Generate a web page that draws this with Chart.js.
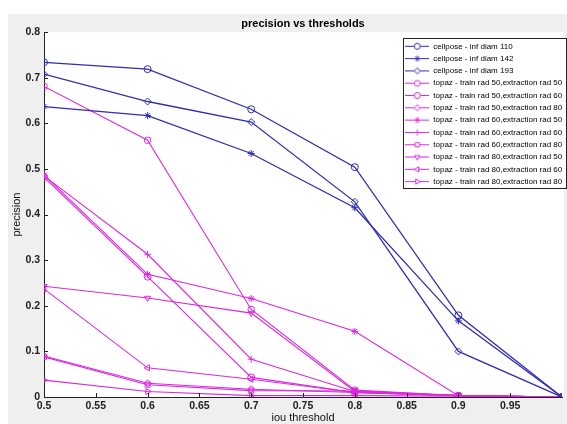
<!DOCTYPE html>
<html>
<head>
<meta charset="utf-8">
<script src="https://cdn.jsdelivr.net/npm/chart.js@4/dist/chart.umd.min.js"></script>
<style>
  html, body { margin: 0; padding: 0; background: #fff; overflow: hidden; }
</style>
</head>
<body>
<canvas id="prChart" width="567" height="424"></canvas>
<script>
// iou thresholds on the x axis
const thresholds = [0.5, 0.6, 0.7, 0.8, 0.9, 1.0];

// cellpose runs
const cellpose110 = [0.734, 0.719, 0.631, 0.504, 0.179, 0];
const cellpose142 = [0.637, 0.617, 0.534, 0.415, 0.167, 0];
const cellpose193 = [0.708, 0.648, 0.603, 0.428, 0.100, 0];

// topaz runs (train rad / extraction rad)
const topaz50_50 = [0.681, 0.563, 0.192, 0.015, 0.003, 0];
const topaz50_60 = [0.482, 0.264, 0.043, 0.010, 0.003, 0];
const topaz50_80 = [0.090, 0.030, 0.017, 0.010, 0.003, 0];
const topaz60_50 = [0.487, 0.269, 0.216, 0.144, 0.003, 0];
const topaz60_60 = [0.485, 0.313, 0.083, 0.012, 0.003, 0];
const topaz60_80 = [0.088, 0.027, 0.014, 0.013, 0.003, 0];
const topaz80_50 = [0.243, 0.217, 0.184, 0.012, 0.003, 0];
const topaz80_60 = [0.237, 0.064, 0.039, 0.010, 0.003, 0];
const topaz80_80 = [0.037, 0.012, 0.003, 0.003, 0.002, 0];

const xTicks = [0.5, 0.55, 0.6, 0.65, 0.7, 0.75, 0.8, 0.85, 0.9, 0.95];
const yTicks = [0, 0.1, 0.2, 0.3, 0.4, 0.5, 0.6, 0.7, 0.8];

const BLUE = "#2e2eb4";
const PINK = "#dc28dc";

function pts(vals) {
  return thresholds.map((t, i) => ({ x: t, y: vals[i] }));
}

function series(label, vals, color, style, rot) {
  return {
    label: label,
    data: pts(vals),
    borderColor: color,
    borderWidth: color === BLUE ? 1.3 : 1.1,
    pointStyle: style,
    rotation: rot || 0,
    pointRadius: 3.5,
    pointBorderColor: color,
    pointBackgroundColor: "rgba(255,255,255,0)",
    pointBorderWidth: 1,
    tension: 0,
    fill: false,
  };
}

const datasets = [
  series("cellpose - inf diam 110", cellpose110, BLUE, "circle"),
  series("cellpose - inf diam 142", cellpose142, BLUE, "star"),
  series("cellpose - inf diam 193", cellpose193, BLUE, "rectRot"),
  series("topaz - train rad 50,extraction rad 50", topaz50_50, PINK, "rectRounded"),
  series("topaz - train rad 50,extraction rad 60", topaz50_60, PINK, "circle"),
  series("topaz - train rad 50,extraction rad 80", topaz50_80, PINK, "rectRot"),
  series("topaz - train rad 60,extraction rad 50", topaz60_50, PINK, "star"),
  series("topaz - train rad 60,extraction rad 60", topaz60_60, PINK, "cross"),
  series("topaz - train rad 60,extraction rad 80", topaz60_80, PINK, "rect"),
  series("topaz - train rad 80,extraction rad 50", topaz80_50, PINK, "triangle", 180),
  series("topaz - train rad 80,extraction rad 60", topaz80_60, PINK, "triangle", 270),
  series("topaz - train rad 80,extraction rad 80", topaz80_80, PINK, "triangle", 90),
];

// little line+marker icons for the legend, like matlab draws them
function makeIcon(ds) {
  const c = document.createElement("canvas");
  c.width = 24; c.height = 9;
  const g = c.getContext("2d");
  g.strokeStyle = ds.borderColor;
  g.lineWidth = 1;
  g.beginPath(); g.moveTo(0, 4.5); g.lineTo(24, 4.5); g.stroke();
  if (Chart.helpers && Chart.helpers.drawPoint) {
    g.fillStyle = "#fff";
    Chart.helpers.drawPoint(g, { pointStyle: ds.pointStyle, radius: 3, rotation: ds.rotation, borderWidth: 1 }, 12, 4.5);
  }
  return c;
}
const icons = datasets.map(makeIcon);

const figureBg = {
  id: "figureBg",
  beforeDraw(chart) {
    const ctx = chart.ctx, a = chart.chartArea;
    ctx.save();
    ctx.fillStyle = "#fff";
    ctx.fillRect(0, 0, chart.width, chart.height);
    ctx.fillStyle = "#efefef";
    ctx.fillRect(8, 14, chart.width - 8, chart.height - 14);
    ctx.fillStyle = "#fff";
    ctx.fillRect(a.left, a.top, a.right - a.left + 2, a.bottom - a.top);
    ctx.restore();
  },
};

// put the legend box in the upper right corner of the axes
const legendPlace = {
  id: "legendPlace",
  afterLayout(chart) {
    const lg = chart.legend;
    lg.left = 401; lg.top = 38; lg.right = 567; lg.bottom = 200;
    lg.width = 166; lg.height = 162;
  },
  afterDatasetsDraw(chart) {
    const ctx = chart.ctx;
    ctx.save();
    ctx.fillStyle = "#fff";
    ctx.fillRect(403, 38, 163, 150);
    ctx.strokeStyle = "#222";
    ctx.lineWidth = 1;
    ctx.strokeRect(403.5, 38.5, 163, 150);
    ctx.restore();
    chart.legend.draw();
  },
};

// matlab style ticks pointing into the axes
const innerTicks = {
  id: "innerTicks",
  afterDraw(chart) {
    const ctx = chart.ctx, a = chart.chartArea;
    const xs = chart.scales.x, ys = chart.scales.y;
    ctx.save();
    ctx.strokeStyle = "#222";
    ctx.lineWidth = 1;
    ctx.beginPath();
    xTicks.forEach(v => {
      const px = Math.round(xs.getPixelForValue(v)) + 0.5;
      ctx.moveTo(px, a.bottom); ctx.lineTo(px, a.bottom - 4);
    });
    yTicks.forEach(v => {
      const py = Math.round(ys.getPixelForValue(v)) + 0.5;
      ctx.moveTo(a.left, py); ctx.lineTo(a.left + 4, py);
    });
    ctx.stroke();
    ctx.restore();
  },
};

const tickFont = { family: "'Liberation Sans', Arial, sans-serif", size: 10.5, weight: "bold" };

const CHART = document.getElementById("prChart");
let prChart = new Chart(CHART, {
  type: "line",
  data: { datasets: datasets },
  plugins: [figureBg, legendPlace, innerTicks],
  options: {
    responsive: false,
    animation: false,
    layout: { padding: { left: 0, right: 1, top: 0, bottom: 0 } },
    plugins: {
      title: {
        display: true,
        text: "precision vs thresholds",
        fullSize: false,
        color: "#000",
        font: { family: "'Liberation Sans', Arial, sans-serif", size: 11, weight: "bold" },
        padding: { top: 17, bottom: 2 },
      },
      legend: {
        position: "chartArea",
        align: "start",
        labels: {
          usePointStyle: true,
          pointStyleWidth: 24,
          color: "#000",
          padding: 4.3,
          font: { family: "'Liberation Sans Narrow', 'Liberation Sans', Arial, sans-serif", size: 8 },
          generateLabels(chart) {
            return Chart.defaults.plugins.legend.labels.generateLabels(chart).map((it, i) => {
              it.pointStyle = icons[i];
              it.rotation = 0;
              return it;
            });
          },
        },
      },
      tooltip: { enabled: false },
    },
    scales: {
      x: {
        type: "linear",
        min: 0.5,
        max: 1,
        afterBuildTicks(scale) { scale.ticks = xTicks.map(v => ({ value: v })); },
        afterFit(scale) { scale.height = 27; },
        grid: { display: true, drawOnChartArea: false, drawTicks: false },
        border: { display: true, color: "#222", width: 1 },
        ticks: {
          padding: 3,
          color: "#222",
          font: tickFont,
          maxRotation: 0,
          autoSkip: false,
          callback: v => String(Math.round(v * 100) / 100),
        },
        title: {
          display: true,
          text: "iou threshold",
          color: "#111",
          font: { family: "'Liberation Sans', Arial, sans-serif", size: 11 },
          padding: { top: 0, bottom: -1 },
        },
      },
      y: {
        min: 0,
        max: 0.8,
        afterBuildTicks(scale) { scale.ticks = yTicks.map(v => ({ value: v })); },
        afterFit(scale) { scale.width = 44; },
        grid: { display: true, drawOnChartArea: false, drawTicks: false },
        border: { display: true, color: "#222", width: 1 },
        ticks: {
          padding: 4,
          color: "#222",
          font: tickFont,
          autoSkip: false,
          callback: v => String(Math.round(v * 10) / 10),
        },
        title: {
          display: true,
          text: "precision",
          color: "#111",
          font: { family: "'Liberation Sans', Arial, sans-serif", size: 11 },
          padding: { top: 10, bottom: 0 },
        },
      },
    },
  },
});
</script>
</body>
</html>
